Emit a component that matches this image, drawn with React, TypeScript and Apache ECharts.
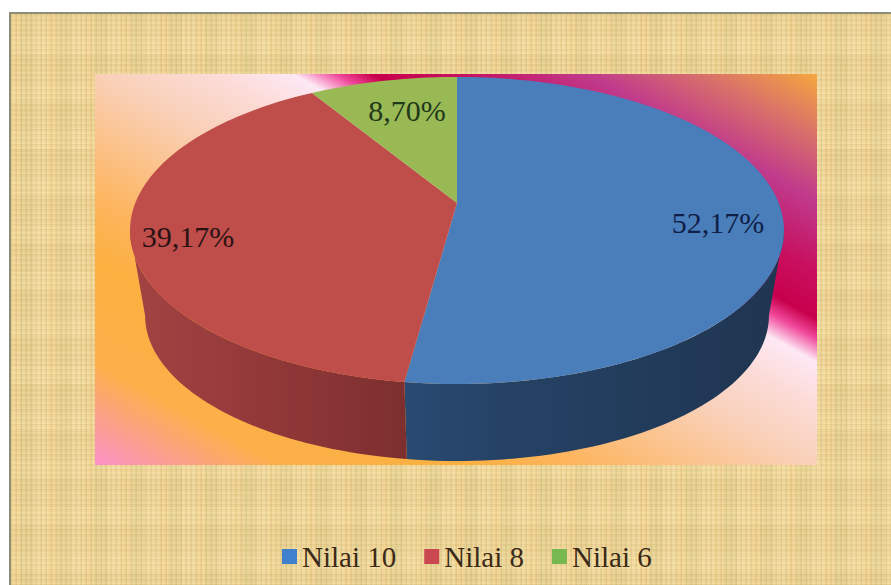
import React, { useEffect, useRef } from "react";
import * as echarts from "echarts";

const names = ["Nilai 10", "Nilai 8", "Nilai 6"];
const values = [52.17, 39.17, 8.7];
const labels = ["52,17%", "39,17%", "8,70%"];
const labelX = [718, 188, 407];
const labelY = [222, 236, 110];
const labelColors = ["#101f48", "#2a1214", "#22381a"];
const topColors = ["#4a7ebb", "#bf4d4a", "#98b954"];
const legendColors = ["#3f80cc", "#cc4850", "#78b850"];
const sideStops = [
  ["#2a4a72", "#254266", "#1f3550"],
  ["#a34343", "#94393a", "#7d2f2f"],
  ["#6d8a3a", "#6d8a3a", "#6d8a3a"],
];

const CX = 457, CY = 203, A = 321.7, B = 148.6, K = -0.179;
const TOTAL = values.reduce((s, v) => s + v, 0);
const rim = (deg: number) => {
  const t = (deg * Math.PI) / 180;
  const u = Math.sin(t), v = -Math.cos(t), d = 1 + K * v;
  return [CX + (A * u) / d, CY + (B * v) / d];
};
const lowerRim = (p: number[]) => [CX + (p[0] - CX) * 0.954, 461 - (384 - p[1]) * 0.948];
const FRONT_START = (Math.acos(K) * 180) / Math.PI;
const FRONT_END = 360 - FRONT_START;

const arc = (a: number, b: number) => {
  const n = Math.max(2, Math.ceil(Math.abs(b - a) / 1.5));
  const pts: number[][] = [];
  for (let i = 0; i <= n; i++) pts.push(rim(a + ((b - a) * i) / n));
  return pts;
};

const seriesFor = (idx: number) => ({
  type: "custom",
  name: names[idx],
  coordinateSystem: "none",
  data: [[values[idx]]],
  itemStyle: { color: topColors[idx] },
  z: 5 + idx,
  silent: true,
  renderItem: (_p: any, api: any) => {
    const before = values.slice(0, idx).reduce((s, v) => s + v, 0);
    const a = (before / TOTAL) * 360;
    const b = a + (api.value(0) / TOTAL) * 360;
    const children: any[] = [];
    const s1 = Math.max(a, FRONT_START), s2 = Math.min(b, FRONT_END);
    if (s2 > s1) {
      const up = arc(s1, s2);
      const low = up.map(lowerRim).reverse();
      const xs = up.map((p) => p[0]);
      children.push({
        type: "polygon",
        shape: { points: [...up, ...low] },
        style: {
          fill: new echarts.graphic.LinearGradient(
            idx === 0 ? Math.min(...xs) : Math.min(...xs),
            0,
            Math.max(...xs),
            0,
            idx === 0
              ? [
                  { offset: 0, color: sideStops[0][0] },
                  { offset: 0.25, color: sideStops[0][1] },
                  { offset: 1, color: sideStops[0][2] },
                ]
              : [
                  { offset: 0, color: sideStops[idx][0] },
                  { offset: 0.45, color: sideStops[idx][1] },
                  { offset: 1, color: sideStops[idx][2] },
                ],
            true
          ),
        },
      });
    }
    children.push({
      type: "polygon",
      shape: { points: [[CX, CY], ...arc(a, b)] },
      style: { fill: topColors[idx] },
    });
    children.push({
      type: "text",
      style: {
        x: labelX[idx],
        y: labelY[idx],
        text: labels[idx],
        fontFamily: "Liberation Serif",
        fontSize: 30,
        fill: labelColors[idx],
        align: "center",
        verticalAlign: "middle",
      },
    });
    return { type: "group", children };
  },
});

const texture = [
  "repeating-linear-gradient(90deg, rgba(190,160,80,0.20) 0 1px, rgba(255,240,190,0.10) 1px 4px, rgba(200,165,90,0.10) 4px 5px)",
  "repeating-linear-gradient(0deg, rgba(185,155,80,0.16) 0 1px, rgba(255,240,190,0.10) 1px 3px, rgba(210,175,100,0.10) 3px 5px)",
  "repeating-linear-gradient(90deg, rgba(255,200,120,0.18) 0 9px, rgba(180,170,90,0.12) 9px 23px, rgba(255,225,160,0.10) 23px 37px)",
  "repeating-linear-gradient(0deg, rgba(190,165,90,0.12) 0 13px, rgba(255,235,180,0.12) 13px 31px, rgba(200,170,100,0.08) 31px 47px)",
].join(",");

export default function App() {
  const ref = useRef<HTMLDivElement>(null);
  useEffect(() => {
    document.body.style.margin = "0";
    document.body.style.background = "#ffffff";
    const chart = echarts.init(ref.current!, undefined, { renderer: "svg" });
    chart.setOption({
      animation: false,
      backgroundColor: "transparent",
      legend: {
        left: 277,
        top: 537,
        itemWidth: 15,
        itemHeight: 15,
        itemGap: 28,
        icon: "rect",
        selectedMode: false,
        data: names.map((name, i) => ({ name, itemStyle: { color: legendColors[i] } })),
        textStyle: { fontFamily: "Liberation Serif", fontSize: 29, color: "#3a2a18" },
      },
      graphic: [
        {
          type: "rect",
          z: 0,
          shape: { x: 95, y: 74, width: 722, height: 391 },
          style: {
            fill: new echarts.graphic.LinearGradient(
              817, 75, 484.4, 679.4,
              [
                { offset: 0, color: "#f5a63f" },
                { offset: 0.08, color: "#d8706a" },
                { offset: 0.16, color: "#c03a8c" },
                { offset: 0.25, color: "#c8105f" },
                { offset: 0.31, color: "#c8004c" },
                { offset: 0.335, color: "#f0479a" },
                { offset: 0.365, color: "#fde8f4" },
                { offset: 0.42, color: "#fcdcd8" },
                { offset: 0.5, color: "#f9d0b8" },
                { offset: 0.665, color: "#fdb45c" },
                { offset: 0.74, color: "#fbb040" },
                { offset: 0.87, color: "#fbb04a" },
                { offset: 1, color: "#fb90c8" },
              ],
              true
            ),
          },
        },
      ],
      series: [seriesFor(2), seriesFor(1), seriesFor(0)].reverse(),
    });
    return () => chart.dispose();
  }, []);
  return (
    <div style={{ position: "relative", width: 891, height: 585, background: "#fff", overflow: "hidden" }}>
      <div
        style={{
          position: "absolute",
          left: 9,
          top: 12,
          width: 882,
          height: 573,
          boxSizing: "border-box",
          borderLeft: "2px solid #8d8d78",
          borderTop: "2px solid #8d8d78",
          backgroundColor: "#f0d9a0",
          backgroundImage: texture,
        }}
      />
      <div ref={ref} style={{ position: "absolute", left: 0, top: 0, width: 891, height: 585 }} />
    </div>
  );
}
